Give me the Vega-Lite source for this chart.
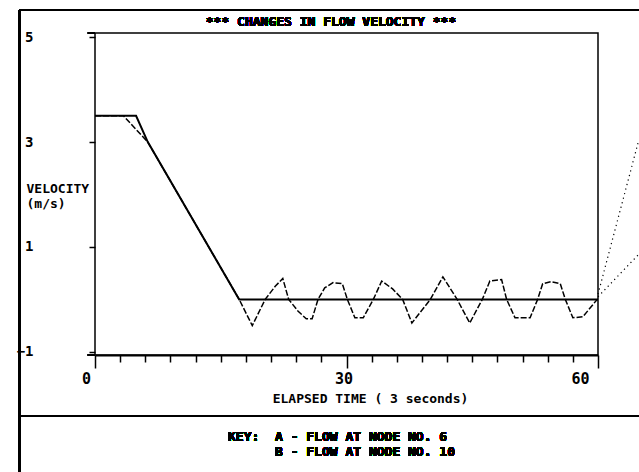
{
  "$schema": "https://vega.github.io/schema/vega-lite/v6.json",
  "width": 503,
  "height": 322,
  "autosize": {"type": "none"},
  "padding": {"left": 95, "top": 33, "right": 41, "bottom": 117},
  "background": "white",
  "datasets": {
    "flow": [
      {"t": 0, "v": 3.5, "series": "A"},
      {"t": 4.9, "v": 3.5, "series": "A"},
      {"t": 6.3, "v": 3.0, "series": "A"},
      {"t": 17.2, "v": 0, "series": "A"},
      {"t": 60, "v": 0, "series": "A"},
      {"t": 0, "v": 3.5, "series": "B"},
      {"t": 3.4, "v": 3.5, "series": "B"},
      {"t": 6.3, "v": 3.0, "series": "B"},
      {"t": 17.2, "v": 0, "series": "B"},
      {"t": 18.76, "v": -0.5, "series": "B"},
      {"t": 20.3, "v": 0, "series": "B"},
      {"t": 21.5, "v": 0.25, "series": "B"},
      {"t": 22.4, "v": 0.4, "series": "B"},
      {"t": 23.1, "v": 0, "series": "B"},
      {"t": 24.2, "v": -0.22, "series": "B"},
      {"t": 25.2, "v": -0.37, "series": "B"},
      {"t": 25.9, "v": -0.37, "series": "B"},
      {"t": 26.6, "v": 0, "series": "B"},
      {"t": 27.4, "v": 0.22, "series": "B"},
      {"t": 28.4, "v": 0.32, "series": "B"},
      {"t": 29.5, "v": 0.3, "series": "B"},
      {"t": 30.1, "v": 0, "series": "B"},
      {"t": 31.0, "v": -0.35, "series": "B"},
      {"t": 32.0, "v": -0.35, "series": "B"},
      {"t": 33.2, "v": 0, "series": "B"},
      {"t": 34.2, "v": 0.35, "series": "B"},
      {"t": 35.5, "v": 0.2, "series": "B"},
      {"t": 36.7, "v": 0, "series": "B"},
      {"t": 37.8, "v": -0.45, "series": "B"},
      {"t": 40.0, "v": 0, "series": "B"},
      {"t": 41.5, "v": 0.43, "series": "B"},
      {"t": 43.2, "v": 0, "series": "B"},
      {"t": 44.7, "v": -0.45, "series": "B"},
      {"t": 46.2, "v": 0, "series": "B"},
      {"t": 47.1, "v": 0.35, "series": "B"},
      {"t": 48.5, "v": 0.38, "series": "B"},
      {"t": 49.1, "v": 0, "series": "B"},
      {"t": 50.1, "v": -0.35, "series": "B"},
      {"t": 51.9, "v": -0.35, "series": "B"},
      {"t": 52.8, "v": 0, "series": "B"},
      {"t": 53.4, "v": 0.3, "series": "B"},
      {"t": 54.4, "v": 0.34, "series": "B"},
      {"t": 55.5, "v": 0.3, "series": "B"},
      {"t": 56.1, "v": 0, "series": "B"},
      {"t": 57.0, "v": -0.35, "series": "B"},
      {"t": 58.2, "v": -0.33, "series": "B"},
      {"t": 59.9, "v": 0, "series": "B"},
      {"t": 60, "v": 0.1, "series": "A ext"},
      {"t": 64.8, "v": 3.0, "series": "A ext"},
      {"t": 60, "v": 0.05, "series": "B ext"},
      {"t": 64.8, "v": 0.85, "series": "B ext"}
    ]
  },
  "data": {"name": "flow"},
  "encoding": {
    "x": {
      "field": "t",
      "type": "quantitative",
      "scale": {"domain": [0, 60], "nice": false, "zero": false},
      "axis": {
        "title": "ELAPSED TIME ( 3 seconds)",
        "titleFont": "DejaVu Sans Mono",
        "titleFontSize": 13,
        "titleFontWeight": "bold",
        "titleColor": "black",
        "titleX": 275,
        "titleY": 37,
        "titleAlign": "center",
        "titleBaseline": "top",
        "values": [0, 3, 6, 9, 12, 15, 18, 21, 24, 27, 30, 33, 36, 39, 42, 45, 48, 51, 54, 57, 60],
        "labelExpr": "datum.value % 30 === 0 ? datum.label : ''",
        "labelFont": "DejaVu Sans Mono",
        "labelFontSize": 15,
        "labelFontWeight": "bold",
        "labelColor": "black",
        "labelPadding": 3,
        "labelOffset": {"condition": [{"test": "datum.value === 30", "value": -3}, {"test": "datum.value === 60", "value": -18}], "value": -9},
        "labelFlush": false,
        "labelOverlap": false,
        "domainColor": "black",
        "domainWidth": 2,
        "tickColor": "black",
        "tickWidth": 1.5,
        "tickSize": {"condition": {"test": "datum.value % 30 === 0", "value": 13}, "value": 7},
        "grid": false
      }
    },
    "y": {
      "field": "v",
      "type": "quantitative",
      "scale": {"domain": [-1.06, 5.08], "nice": false, "zero": false},
      "axis": {
        "title": ["VELOCITY", "(m/s)"],
        "titleFont": "DejaVu Sans Mono",
        "titleFontSize": 13,
        "titleFontWeight": "bold",
        "titleColor": "black",
        "titleAngle": 0,
        "titleAlign": "left",
        "titleBaseline": "top",
        "titleX": -69,
        "titleY": 149,
        "titleLineHeight": 15,
        "values": [5, 3, 1, -1],
        "labelFont": "DejaVu Sans Mono",
        "labelFontSize": 14,
        "labelFontWeight": "bold",
        "labelColor": "black",
        "labelPadding": 56,
        "domain": false,
        "tickColor": "black",
        "tickWidth": 1.5,
        "tickSize": 6,
        "grid": false
      }
    }
  },
  "layer": [
    {
      "transform": [{"filter": "datum.series === 'B'"}],
      "mark": {"type": "line", "color": "black", "strokeWidth": 1.5, "strokeDash": [6, 2]}
    },
    {
      "transform": [{"filter": "datum.series === 'A'"}],
      "mark": {"type": "line", "color": "black", "strokeWidth": 2}
    },
    {
      "transform": [{"filter": "datum.series === 'A ext' || datum.series === 'B ext'"}],
      "mark": {"type": "line", "color": "black", "strokeWidth": 1.2, "strokeDash": [1.2, 3.5]},
      "encoding": {"detail": {"field": "series"}}
    },
    {
      "mark": {"type": "rule", "color": "black", "strokeWidth": 1.5},
      "encoding": {"x": {"datum": -9}, "y": {"datum": 5.52}, "y2": {"datum": -3.4}}
    },
    {
      "mark": {"type": "rule", "color": "black", "strokeWidth": 1.5},
      "encoding": {"y": {"datum": 5.52}, "x": {"datum": -9}, "x2": {"datum": 66}}
    },
    {
      "mark": {"type": "rule", "color": "black", "strokeWidth": 1.5},
      "encoding": {"y": {"datum": -2.224}, "x": {"datum": -9}, "x2": {"datum": 66}}
    },
    {
      "mark": {"type": "rule", "color": "black", "strokeWidth": 1.5},
      "encoding": {"y": {"datum": 5.08}, "x": {"datum": -0.84}, "x2": {"datum": 0}}
    },
    {
      "mark": {"type": "rule", "color": "black", "strokeWidth": 2},
      "encoding": {"y": {"datum": -1.06}, "x": {"datum": -0.84}, "x2": {"datum": 0}}
    },
    {
      "mark": {"type": "text", "text": "*** CHANGES IN FLOW VELOCITY ***", "align": "center", "baseline": "middle", "font": "DejaVu Sans Mono", "fontSize": 13, "fontWeight": "bold", "color": "black"},
      "encoding": {"x": {"datum": 28.15}, "y": {"datum": 5.29}}
    },
    {
      "mark": {"type": "text", "text": "KEY:", "align": "left", "baseline": "middle", "font": "DejaVu Sans Mono", "fontSize": 13, "fontWeight": "bold", "color": "black"},
      "encoding": {"x": {"datum": 15.87}, "y": {"datum": -2.624}}
    },
    {
      "mark": {"type": "text", "text": "A - FLOW AT NODE NO. 6", "align": "left", "baseline": "middle", "font": "DejaVu Sans Mono", "fontSize": 13, "fontWeight": "bold", "color": "black"},
      "encoding": {"x": {"datum": 21.47}, "y": {"datum": -2.624}}
    },
    {
      "mark": {"type": "text", "text": "B - FLOW AT NODE NO. 10", "align": "left", "baseline": "middle", "font": "DejaVu Sans Mono", "fontSize": 13, "fontWeight": "bold", "color": "black"},
      "encoding": {"x": {"datum": 21.47}, "y": {"datum": -2.91}}
    }
  ],
  "config": {
    "view": {"stroke": "black", "strokeWidth": 1.5},
    "font": "DejaVu Sans Mono"
  }
}
